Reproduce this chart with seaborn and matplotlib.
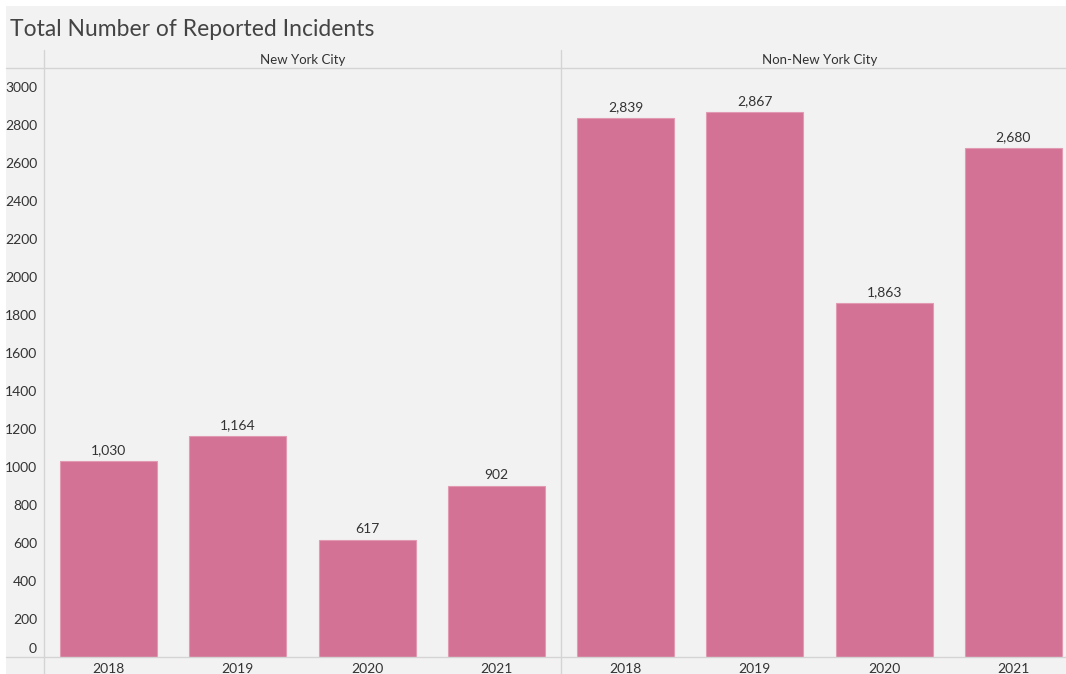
import matplotlib
matplotlib.use("Agg")
import matplotlib.pyplot as plt
import matplotlib.transforms as mtransforms
from matplotlib.lines import Line2D
from matplotlib.patches import Rectangle
import seaborn as sns
import pandas as pd

# Reported incident counts by region and year
years = ["2018", "2019", "2020", "2021"]
regions = ["New York City", "Non-New York City"]
nyc_counts = [1030, 1164, 617, 902]
non_nyc_counts = [2839, 2867, 1863, 2680]
y_ticks = list(range(0, 3001, 200))

df = pd.DataFrame({
    "region": [regions[0]] * 4 + [regions[1]] * 4,
    "year": years * 2,
    "count": nyc_counts + non_nyc_counts,
})

sns.set_theme(style="white")
plt.rcParams["font.family"] = ["Lato", "DejaVu Sans"]

W, H = 1066, 674
BG = "#f2f2f2"
BAR = "#d37295"
LINE = "#d4d4d4"
TXT = "#333333"

fig = plt.figure(figsize=(W / 100, H / 100), dpi=100, facecolor="white")
fig.patches.append(Rectangle((6 / W, 0), 1, 1 - 6 / H, transform=fig.transFigure,
                             facecolor=BG, edgecolor="none", zorder=-10))

def fx(px):
    return px / W

def fy(py):
    return 1 - py / H

top_px, bottom_px = 68, 657
panel_w = 517
lefts = [44, 561]
axes = []
for i, region in enumerate(regions):
    ax = fig.add_axes([fx(lefts[i]), fy(bottom_px), fx(panel_w), (bottom_px - top_px) / H])
    ax.set_facecolor("none")
    sub = df[df["region"] == region]
    sns.barplot(data=sub, x="year", y="count", order=years, color=BAR, width=0.75,
                saturation=1, edgecolor="#e29ab3", linewidth=0.8, ax=ax)
    ax.set_ylim(0, 3100)
    ax.set_xlim(-0.5, 3.5)
    ax.set_xlabel("")
    ax.set_ylabel("")
    for s in ax.spines.values():
        s.set_visible(False)
    ax.tick_params(axis="x", length=0, pad=4.5, labelsize=10, labelcolor=TXT)
    for p, v in zip(ax.patches, sub["count"]):
        ax.annotate(f"{v:,}", (p.get_x() + p.get_width() / 2, v), xytext=(0, 3.5),
                    textcoords="offset points", ha="center", va="bottom",
                    fontsize=10, color=TXT)
    # panel header
    fig.text(fx(lefts[i] + panel_w / 2), fy(59.5), region, ha="center", va="center",
             fontsize=9.5, color=TXT)
    axes.append(ax)

ax1, ax2 = axes
ax1.set_yticks(y_ticks)
ax1.set_yticklabels([str(t) for t in y_ticks])
ax1.tick_params(axis="y", length=0, pad=5, labelsize=10, labelcolor=TXT)
# lift the zero label above the baseline
zero_lbl = ax1.get_yticklabels()[0]
zero_lbl.set_transform(zero_lbl.get_transform() +
                       mtransforms.ScaledTranslation(0, 9 / 100, fig.dpi_scale_trans))
ax2.set_yticks([])

# header underline, baseline and panel dividers
for yy in (top_px, bottom_px):
    fig.add_artist(Line2D([fx(6), 1], [fy(yy), fy(yy)], color=LINE, lw=1))
fig.add_artist(Line2D([fx(44), fx(44)], [fy(50), 0], color=LINE, lw=1))
fig.add_artist(Line2D([fx(561), fx(561)], [fy(50), 0], color=LINE, lw=1))

fig.text(fx(10), fy(29.5), "Total Number of Reported Incidents", ha="left", va="center",
         fontsize=16.5, color="#444444")

fig.savefig("out.png", dpi=100, facecolor="white")
